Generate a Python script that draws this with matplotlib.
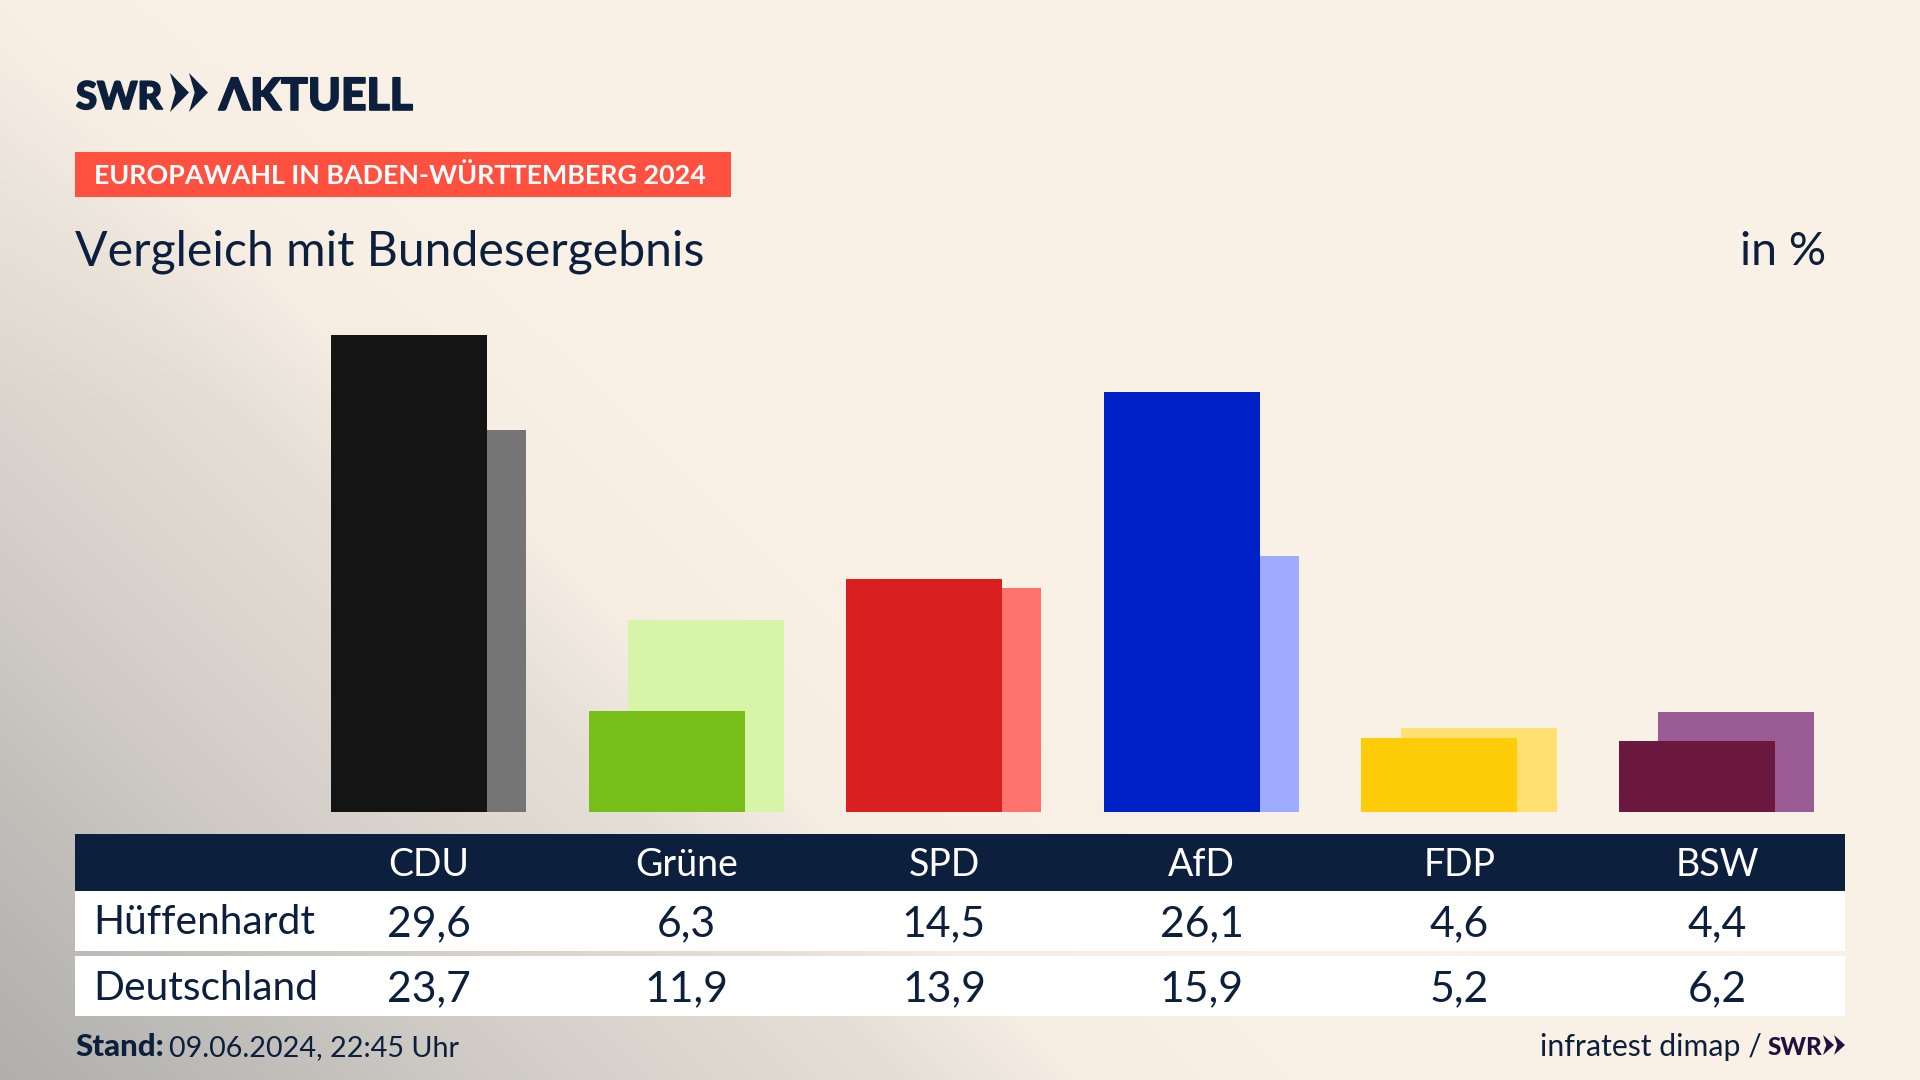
import numpy as np
import matplotlib
matplotlib.use('Agg')
import matplotlib.pyplot as plt
import matplotlib.patheffects as pe
from matplotlib.patches import Rectangle, Polygon

parties = ['CDU', 'Grüne', 'SPD', 'AfD', 'FDP', 'BSW']
local_name = 'Hüffenhardt'
national_name = 'Deutschland'
local_values = [29.6, 6.3, 14.5, 26.1, 4.6, 4.4]
national_values = [23.7, 11.9, 13.9, 15.9, 5.2, 6.2]
front_colors = ['#141414', '#78BE1A', '#D91F1F', '#0020C8', '#FFCC0A', '#6B193F']
back_colors = ['#757575', '#D7F5A9', '#FF736E', '#9EABFF', '#FFE070', '#9B5C96']

NAVY = '#0C1F3D'
CREAM = np.array([250, 241, 230]) / 255
GREY = np.array([176, 175, 173]) / 255
W, H = 1920, 1080

plt.rcParams['font.family'] = ['Lato', 'DejaVu Sans']


def comma(v):
    return f'{v:.1f}'.replace('.', ',')


def chevrons(ax, x, top, h, cw, color):
    # the two arrows of the SWR logo
    for off in (0, cw):
        ax.add_patch(Polygon([(x + off, top), (x + off + cw, top + h / 2),
                              (x + off, top + h), (x + off + cw * 0.3, top + h / 2)],
                             closed=True, fc=color, ec='none'))


fig = plt.figure(figsize=(W / 100, H / 100), dpi=100)

# background gradient, grey towards the lower left corner
bg = fig.add_axes([0, 0, 1, 1], zorder=0)
yy, xx = np.mgrid[0:H, 0:W]
t = np.interp(yy - xx, [-300, 0, 170, 500, 830, 1080], [0, 0.06, 0.27, 0.5, 0.8, 1.0])
t = (t * np.minimum(1, 0.5 + yy / 800))[..., None]
bg.imshow(CREAM * (1 - t) + GREY * t, aspect='auto', extent=(0, W, H, 0))
bg.set_axis_off()

# overlay in pixels for the table and headings
ov = fig.add_axes([0, 0, 1, 1], zorder=1)
ov.set_xlim(0, W)
ov.set_ylim(H, 0)
ov.set_axis_off()
ov.patch.set_alpha(0)

# bars
col_x0, col_w = 428.6, 257.6
left = col_x0 - col_w / 2
ax = fig.add_axes([left / W, (H - 812) / H, col_w * 6 / W, 512 / H], zorder=2)
ax.patch.set_alpha(0)
xs = np.arange(len(parties))
ax.bar(xs + 0.076, national_values, 0.605, color=back_colors)
ax.bar(xs - 0.076, local_values, 0.605, color=front_colors)
ax.set_xlim(-0.5, 5.5)
ax.set_ylim(0, 512 / 16.1)
ax.set_axis_off()

# logo
heavy = [pe.withStroke(linewidth=1.2, foreground=NAVY)]
ov.text(76, 109, 'SWR', fontsize=27.5, fontweight='black', color=NAVY, va='baseline',
        path_effects=heavy)
chevrons(ov, 170, 73, 39, 19, NAVY)
ov.text(219, 110, 'ΛKTUELL', fontsize=32, fontweight='black', color=NAVY, va='baseline',
        path_effects=heavy)

# heading
ov.add_patch(Rectangle((75, 152), 656, 45, fc='#FF5040', ec='none'))
ov.text(94, 184, 'EUROPAWAHL IN BADEN-WÜRTTEMBERG 2024', fontsize=19.4, fontweight='bold',
        color='white', va='baseline')
ov.text(75, 265, 'Vergleich mit Bundesergebnis', fontsize=34.7, color=NAVY, va='baseline')
ov.text(1826, 265, 'in %', fontsize=33.5, color=NAVY, va='baseline', ha='right')

# table
ov.add_patch(Rectangle((75, 834), 1770, 57, fc=NAVY, ec='none'))
ov.add_patch(Rectangle((75, 891), 1770, 60, fc='white', ec='none'))
ov.add_patch(Rectangle((75, 956), 1770, 60, fc='white', ec='none'))
ov.text(93, 934, local_name, fontsize=29.3, color=NAVY, va='baseline')
ov.text(93, 1000, national_name, fontsize=29.3, color=NAVY, va='baseline')
for i, name in enumerate(parties):
    cx = 428.6 + 257.7 * i
    ov.text(cx, 876, name, fontsize=27, color='white', ha='center', va='baseline')
    ov.text(cx, 936, comma(local_values[i]), fontsize=30.8, color=NAVY, ha='center', va='baseline')
    ov.text(cx, 1001, comma(national_values[i]), fontsize=30.8, color=NAVY, ha='center', va='baseline')

# footer
ov.text(75, 1056, 'Stand:', fontsize=22.5, fontweight='black', color=NAVY, va='baseline')
ov.text(169, 1056, '09.06.2024, 22:45 Uhr', fontsize=20.7, color=NAVY, va='baseline')
ov.text(1762, 1056, 'infratest dimap /', fontsize=21.8, color=NAVY, ha='right', va='baseline')
ov.text(1768, 1055, 'SWR', fontsize=17.5, fontweight='black', color='#22103F', va='baseline')
chevrons(ov, 1823, 1035, 20, 11, '#22103F')

fig.savefig('out.png', dpi=100)
